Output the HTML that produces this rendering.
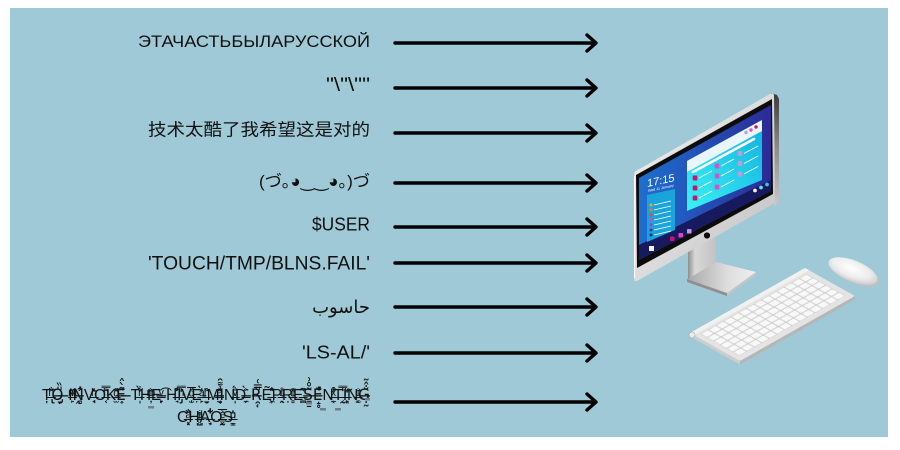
<!DOCTYPE html>
<html>
<head>
<meta charset="utf-8">
<style>
  html,body{margin:0;padding:0;background:#fff;}
  body{width:900px;height:450px;overflow:hidden;}
  svg{display:block;}
  .lbl{font-family:"Liberation Sans","Noto Sans CJK SC","DejaVu Sans",sans-serif;fill:#111;}
</style>
</head>
<body>
<svg width="900" height="450" viewBox="0 0 900 450" xmlns="http://www.w3.org/2000/svg">
  <defs>
    <linearGradient id="silver" x1="0" y1="0" x2="1" y2="1">
      <stop offset="0" stop-color="#f2f2f2"/>
      <stop offset="0.5" stop-color="#dcdcdc"/>
      <stop offset="1" stop-color="#bcbcbc"/>
    </linearGradient>
    <linearGradient id="side" x1="0" y1="0" x2="0" y2="1">
      <stop offset="0" stop-color="#3a3a3a"/>
      <stop offset="0.5" stop-color="#8e8e8e"/>
      <stop offset="1" stop-color="#c8c8c8"/>
    </linearGradient>
    <linearGradient id="scr" x1="639" y1="0" x2="772" y2="0" gradientUnits="userSpaceOnUse">
      <stop offset="0" stop-color="#1d6fd0"/>
      <stop offset="0.45" stop-color="#2352b8"/>
      <stop offset="1" stop-color="#2b2a95"/>
    </linearGradient>
    <linearGradient id="win" x1="0" y1="1" x2="1" y2="0">
      <stop offset="0" stop-color="#3af2f4"/>
      <stop offset="1" stop-color="#12b0e2"/>
    </linearGradient>
    <linearGradient id="neck" x1="0" y1="0" x2="1" y2="0">
      <stop offset="0" stop-color="#8e8e8e"/>
      <stop offset="0.25" stop-color="#d8d8d8"/>
      <stop offset="1" stop-color="#c2c2c2"/>
    </linearGradient>
    <linearGradient id="base" x1="0" y1="0" x2="1" y2="0">
      <stop offset="0" stop-color="#a8a8a8"/>
      <stop offset="0.6" stop-color="#dedede"/>
      <stop offset="1" stop-color="#efefef"/>
    </linearGradient>
    <radialGradient id="mouse" cx="0.45" cy="0.4" r="0.65">
      <stop offset="0" stop-color="#ffffff"/>
      <stop offset="0.6" stop-color="#ececec"/>
      <stop offset="1" stop-color="#c6c6c6"/>
    </radialGradient>
    <pattern id="keys" patternUnits="userSpaceOnUse" x="5" y="7" width="8.7" height="7.4">
      <rect x="0.6" y="0.6" width="7.5" height="6.2" rx="1" fill="#f8f8f8"/>
    </pattern>
  </defs>

  <!-- background panel -->
  <rect x="0" y="0" width="900" height="450" fill="#ffffff"/>
  <rect x="10" y="8" width="878" height="429" fill="#9fc9d6"/>

  <!-- arrows -->
  <g stroke="#000" stroke-width="3.4" fill="none" stroke-linecap="round" stroke-linejoin="round">
    <path d="M395 43 H595 M587 35 L596 43 L587 51"/>
    <path d="M395 88 H595 M587 80 L596 88 L587 96"/>
    <path d="M395 133 H595 M587 125 L596 133 L587 141"/>
    <path d="M395 183 H595 M587 175 L596 183 L587 191"/>
    <path d="M395 227 H595 M587 219 L596 227 L587 235"/>
    <path d="M395 263 H595 M587 255 L596 263 L587 271"/>
    <path d="M395 307 H595 M587 299 L596 307 L587 315"/>
    <path d="M395 353 H595 M587 345 L596 353 L587 361"/>
    <path d="M395 402 H595 M587 394 L596 402 L587 410"/>
  </g>

  <!-- labels -->
  <text class="lbl" x="370" y="47" font-size="16.5" text-anchor="end" textLength="232" lengthAdjust="spacingAndGlyphs">ЭТАЧАСТЬБЫЛАРУССКОЙ</text>
  <text class="lbl" x="370" y="91" font-size="19" text-anchor="end" textLength="44" lengthAdjust="spacingAndGlyphs">"\"\""</text>
  <text class="lbl" x="370" y="135.5" font-size="17" text-anchor="end" textLength="222" lengthAdjust="spacingAndGlyphs" style="font-family:'Liberation Sans','Noto Sans CJK SC',sans-serif;">技术太酷了我希望这是对的</text>
  <text class="lbl" x="370" y="187" font-size="17" text-anchor="end" textLength="111" lengthAdjust="spacingAndGlyphs" style="font-family:'Liberation Sans','Noto Sans CJK JP','DejaVu Sans',sans-serif;">(づ｡◕‿‿◕｡)づ</text>
  <text class="lbl" x="370" y="230.5" font-size="18" text-anchor="end" textLength="58" lengthAdjust="spacingAndGlyphs">$USER</text>
  <text class="lbl" x="370" y="269.5" font-size="19" text-anchor="end" textLength="222" lengthAdjust="spacingAndGlyphs">'TOUCH/TMP/BLNS.FAIL'</text>
  <text class="lbl" x="370" y="313" font-size="18" text-anchor="end" style="font-family:'DejaVu Sans',sans-serif;">حاسوب</text>
  <text class="lbl" x="370" y="358.5" font-size="18" text-anchor="end" textLength="68" lengthAdjust="spacingAndGlyphs">'LS-AL/'</text>

  <!-- zalgo label -->
  <text class="lbl" x="206" y="400" font-size="16" text-anchor="middle" textLength="328" lengthAdjust="spacingAndGlyphs" style="font-family:'DejaVu Sans','Liberation Sans',sans-serif;">T&#x336;&#x303;&#x310;&#x36A;&#x322;&#x326;O&#x336;&#x30E;&#x30F;&#x321;&#x31E; &#x336;I&#x336;&#x36B;&#x30C;&#x36E;&#x319;N&#x336;&#x313;&#x34B;&#x32D;&#x33B;V&#x336;&#x314;&#x36A;&#x318;&#x31C;O&#x336;&#x30E;&#x36A;&#x33F;&#x354;K&#x336;&#x308;&#x369;&#x33D;&#x32B;E&#x336;&#x34C;&#x300;&#x302;&#x34E; &#x336;T&#x336;&#x300;&#x34B;&#x36C;&#x329;H&#x336;&#x366;&#x350;&#x36B;&#x326;E&#x336;&#x36E;&#x361;&#x31E;&#x319; &#x336;H&#x336;&#x30F;&#x350;&#x33E;&#x318;I&#x336;&#x314;&#x33F;&#x36A;&#x321;V&#x336;&#x30A;&#x369;&#x305;&#x31C;&#x32B;E&#x336;&#x313;&#x300;&#x363;&#x319;&#x323;-&#x336;&#x302;&#x36A;&#x320;&#x32C;M&#x336;&#x364;&#x35B;&#x30E;&#x33C;I&#x336;&#x357;&#x34C;&#x311;&#x31F;N&#x336;&#x310;&#x344;&#x36E;&#x329;D&#x336;&#x300;&#x350;&#x308;&#x317;&#x33C; &#x336;R&#x336;&#x30E;&#x33F;&#x351;&#x32F;&#x318;E&#x336;&#x303;&#x33D;&#x310;&#x356;&#x34E;P&#x336;&#x30A;&#x367;&#x36D;&#x32F;&#x316;R&#x336;&#x365;&#x34A;&#x369;&#x33B;&#x323;E&#x336;&#x30B;&#x30F;&#x35B;&#x32A;&#x35A;S&#x336;&#x303;&#x30A;&#x357;&#x35A;&#x331;E&#x336;&#x313;&#x306;&#x33E;&#x31D;&#x325;N&#x336;&#x313;&#x36F;&#x352;&#x33C;&#x359;T&#x336;&#x30D;&#x33E;&#x33F;&#x330;&#x354;I&#x336;&#x36A;&#x312;&#x303;&#x348;&#x355;N&#x336;&#x365;&#x366;&#x308;&#x35A;&#x354;G&#x336;&#x310;&#x302;&#x342;&#x323;&#x330;</text>
  <text class="lbl" x="205" y="422" font-size="16" text-anchor="middle" textLength="56" lengthAdjust="spacingAndGlyphs" style="font-family:'DejaVu Sans','Liberation Sans',sans-serif;">C&#x336;&#x310;&#x363;&#x30F;&#x339;&#x353;H&#x336;&#x365;&#x364;&#x369;&#x33A;&#x325;A&#x336;&#x357;&#x310;&#x34B;&#x359;&#x318;O&#x336;&#x305;&#x350;&#x364;&#x330;&#x353;S&#x336;&#x367;&#x366;&#x314;&#x31D;&#x333;</text>
  <g fill="#6f7f86">
    <rect x="148" y="406" width="6" height="2.5"/>
    <rect x="306" y="402" width="6" height="2.5"/>
    <rect x="320" y="408" width="6" height="2.5"/>
    <rect x="335" y="408" width="6" height="2.5"/>
    <rect x="365" y="398" width="5" height="2.5"/>
    <rect x="220" y="420" width="5" height="2.5"/>
  </g>

  <!-- ===== Computer illustration ===== -->
  <!-- stand neck & base -->
  <polygon points="687,279 727,293 727,296 687,282" fill="#8f8f8f"/>
  <polygon points="727,293 756,272 756,275 727,296" fill="#c4c4c4"/>
  <polygon points="687,279 716,262 756,272 727,293" fill="url(#base)"/>
  <polygon points="688,251 716,236 716,262 688,279" fill="url(#neck)"/>

  <!-- monitor side -->
  <polygon points="771,93 777,95 779,99 779,202 775,206 774,204" fill="url(#side)"/>
  <!-- monitor face -->
  <path d="M636,171 L770,94 Q774,92 774,96 L775,203 L637,281 Q634,282 634,279 L634,175 Q634,172 636,171 Z" fill="url(#silver)"/>
  <line x1="634.6" y1="176" x2="634.6" y2="278" stroke="#fafafa" stroke-width="1.2"/>
  <!-- black bezel -->
  <polygon points="636,175 772,99 773,194 637,268" fill="#0c0c0c"/>
  <!-- screen -->
  <polygon points="639,178 771,105 771,191 639,260" fill="url(#scr)"/>
  <!-- taskbar -->
  <polygon points="639,245 771,180 771,191 639,260" fill="#171a5e"/>
  <!-- apple logo -->
  <circle cx="707" cy="235.5" r="3.1" fill="#0c0c0c"/>

  <!-- clock -->
  <text x="0" y="0" font-size="11" fill="#ffffff" font-family="Liberation Sans, sans-serif" transform="translate(647,187) skewY(-12)">17:15</text>
  <text x="0" y="0" font-size="3.6" fill="#ffffff" font-family="Liberation Sans, sans-serif" transform="translate(648,192) skewY(-12)">Wed 11 January</text>

  <!-- left panel -->
  <polygon points="647,195 675,189 675,230 647,242" fill="#1aa4dc"/>
  <g>
    <circle cx="651" cy="205" r="1.5" fill="#f6a21e"/>
    <circle cx="651" cy="210" r="1.5" fill="#f47c20"/>
    <circle cx="651" cy="215" r="1.5" fill="#ee4a2a"/>
    <circle cx="651" cy="220" r="1.5" fill="#ff2ccf"/>
    <circle cx="651" cy="225" r="1.5" fill="#a23cc8"/>
    <circle cx="651" cy="230" r="1.5" fill="#5a2ca0"/>
    <circle cx="651" cy="235" r="1.5" fill="#1c2a8c"/>
  </g>
  <g stroke="#ffffff" stroke-width="0.8">
    <line x1="654" y1="205" x2="671" y2="201"/>
    <line x1="654" y1="210" x2="671" y2="206"/>
    <line x1="654" y1="215" x2="671" y2="211"/>
    <line x1="654" y1="220" x2="671" y2="216"/>
    <line x1="654" y1="225" x2="671" y2="221"/>
    <line x1="654" y1="230" x2="671" y2="226"/>
    <line x1="654" y1="235" x2="671" y2="231"/>
  </g>

  <!-- taskbar icons -->
  <rect x="649" y="246" width="5" height="5" fill="#f2f2f2"/>
  <rect x="670" y="236.5" width="4.5" height="4.5" rx="0.8" fill="#c4156e"/>
  <rect x="678.5" y="233" width="4.5" height="4.5" rx="0.8" fill="#e044c4"/>
  <rect x="687" y="229" width="4.5" height="4.5" rx="0.8" fill="#c896d6"/>
  <circle cx="755" cy="190.5" r="1.9" fill="#f0f0f0"/>
  <circle cx="761" cy="187.5" r="1.9" fill="#5ee0f0"/>
  <circle cx="767" cy="184.5" r="1.9" fill="#28c8e0"/>

  <!-- window -->
  <polygon points="687,161 762,120 762,180 687,211" fill="url(#win)"/>
  <polygon points="687,161 762,120 762,131 687,172" fill="#e9f6fb"/>
  <circle cx="746" cy="132.5" r="1.7" fill="#c49ad4"/>
  <circle cx="751" cy="130" r="1.7" fill="#e24ec8"/>
  <circle cx="756" cy="127" r="1.7" fill="#c8146e"/>
  <line x1="693" y1="172" x2="754" y2="139" stroke="#ffffff" stroke-width="2.6" stroke-linecap="round"/>
  <!-- window items -->
  <g>
    <rect x="692.7" y="175.5" width="4.6" height="5" rx="1" fill="#c8146e"/>
    <rect x="692.7" y="185.5" width="4.6" height="5" rx="1" fill="#c8146e"/>
    <rect x="692.7" y="195.5" width="4.6" height="5" rx="1" fill="#c8146e"/>
    <rect x="714.7" y="163.5" width="4.6" height="5" rx="1" fill="#e24ec8"/>
    <rect x="714.7" y="173.5" width="4.6" height="5" rx="1" fill="#e24ec8"/>
    <rect x="714.7" y="184.5" width="4.6" height="5" rx="1" fill="#e24ec8"/>
    <rect x="737.7" y="151" width="4.6" height="5" rx="1" fill="#c49ad4"/>
    <rect x="737.7" y="161" width="4.6" height="5" rx="1" fill="#c49ad4"/>
    <rect x="737.7" y="171.5" width="4.6" height="5" rx="1" fill="#c49ad4"/>
  </g>
  <g stroke="#ffffff" stroke-width="0.9">
    <line x1="699" y1="178" x2="712" y2="171"/>
    <line x1="699" y1="188" x2="712" y2="181"/>
    <line x1="699" y1="198" x2="712" y2="191"/>
    <line x1="721" y1="166" x2="734" y2="159"/>
    <line x1="721" y1="176" x2="734" y2="169"/>
    <line x1="721" y1="187" x2="734" y2="180"/>
    <line x1="744" y1="153.5" x2="758" y2="146"/>
    <line x1="744" y1="163.5" x2="758" y2="156"/>
    <line x1="744" y1="174" x2="758" y2="166.5"/>
  </g>

  <!-- keyboard -->
  <polygon points="740,361 855,296 855,299.5 740,364.5" fill="#b6b6b6"/>
  <polygon points="690,333 740,361 740,364.5 690,336.5" fill="#cdcdcd"/>
  <g transform="matrix(0.871,-0.492,0.877,0.491,690,333)">
    <rect x="0" y="0" width="132" height="57" rx="2" fill="#e4e4e4"/>
    <rect x="0" y="0" width="132" height="4.5" fill="#f1f1f1"/>
    <rect x="5" y="7" width="122" height="44.4" fill="#d2d2d2"/>
    <rect x="5" y="7" width="122" height="44.4" fill="url(#keys)"/>
  </g>
  <circle cx="692" cy="335" r="3" fill="#ececec" stroke="#a8a8a8" stroke-width="0.6"/>

  <!-- mouse -->
  <ellipse cx="855" cy="273" rx="26" ry="10.5" transform="rotate(22 855 273)" fill="#b9c3c7"/>
  <ellipse cx="853" cy="271" rx="26" ry="10.5" transform="rotate(22 853 271)" fill="url(#mouse)"/>
</svg>
</body>
</html>
